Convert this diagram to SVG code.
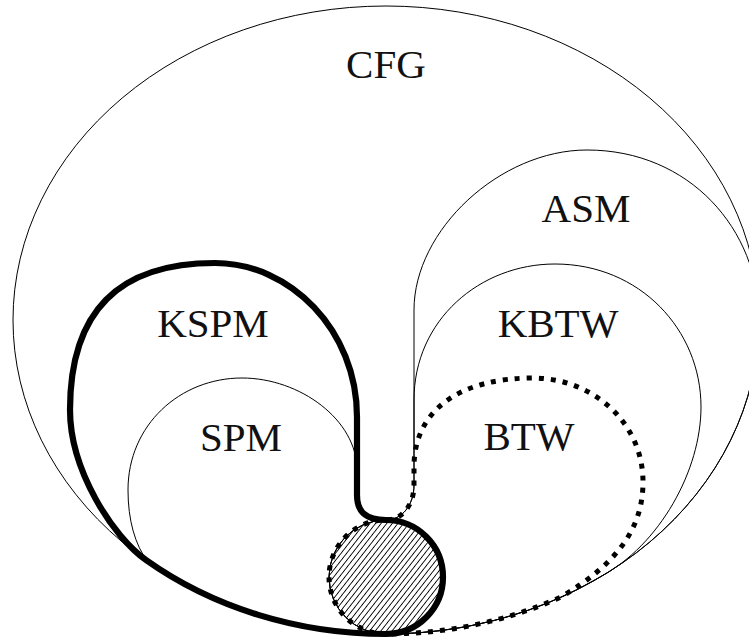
<svg xmlns="http://www.w3.org/2000/svg" width="749" height="641" viewBox="0 0 749 641">
<style>
.thin{fill:none;stroke:#000;stroke-width:1}
.thick{fill:none;stroke:#000;stroke-width:6.2;stroke-linejoin:round}
.dot{fill:none;stroke:#000;stroke-width:5;stroke-dasharray:5 7}
.lbl{font-family:"Liberation Serif","DejaVu Serif",serif;font-size:41px;fill:#111;text-anchor:middle}
</style>
<defs>
<pattern id="hatch" width="4.4" height="4.4" patternUnits="userSpaceOnUse" patternTransform="rotate(38)">
<line x1="2.2" y1="-1" x2="2.2" y2="6" stroke="#000" stroke-width="0.9"/>
</pattern>
</defs>
<rect width="749" height="641" fill="#fff"/>
<g id="CFG">
<ellipse class="thin" cx="386" cy="320" rx="373" ry="314"/>
<text class="lbl" x="386" y="78">CFG</text>
</g>
<g id="ASM">
<path class="thin" d="M386 634 A57 57 0 0 1 329 577 A57 57 0 0 1 386 520 C402 520 414 505 414 485 L414 310 C414 230 500 150 587 150 C690 150 759 230 759 320 A373 314 0 0 1 386 634 Z"/>
<text class="lbl" x="586" y="222">ASM</text>
</g>
<g id="KBTW">
<path class="thin" d="M386 634 A57 57 0 0 1 329 577 A57 57 0 0 1 386 520 C402 520 414 505 414 485 L414 400 C414 320 480 264 555 264 C640 264 701 330 701 407 C701 470 660 545 600 577 A373 314 0 0 1 386 634 Z"/>
<text class="lbl" x="558" y="337">KBTW</text>
</g>
<g id="SPM">
<path class="thin" d="M148 562 C135 545 128 520 128 490 C128 425 180 378 242 378 C300 378 357 420 357 470"/>
<text class="lbl" x="241" y="451">SPM</text>
</g>
<g id="intersection">
<circle cx="386" cy="577" r="57" fill="url(#hatch)" stroke="#000" stroke-width="0.8"/>
</g>
<g id="BTW">
<path class="dot" d="M386 634 A57 57 0 0 1 329 577 A57 57 0 0 1 386 520 C402 520 414 505 414 485 L414 467 C414 410 460 378 533 378 C592 378 643 422 643 482 C643 530 615 565 561 597 A373 314 0 0 1 386 634"/>
<text class="lbl" x="529" y="450">BTW</text>
</g>
<g id="KSPM">
<path class="thick" d="M386 634 A373 314 0 0 1 146 560 C113 537 70 470 70 410 C70 310 120 263 215 263 C290 263 357 330 357 417 L357 495 C357 512 366 520 386 520 A57 57 0 0 1 443 577 A57 57 0 0 1 386 634 Z"/>
<text class="lbl" x="213" y="337">KSPM</text>
</g>
</svg>
